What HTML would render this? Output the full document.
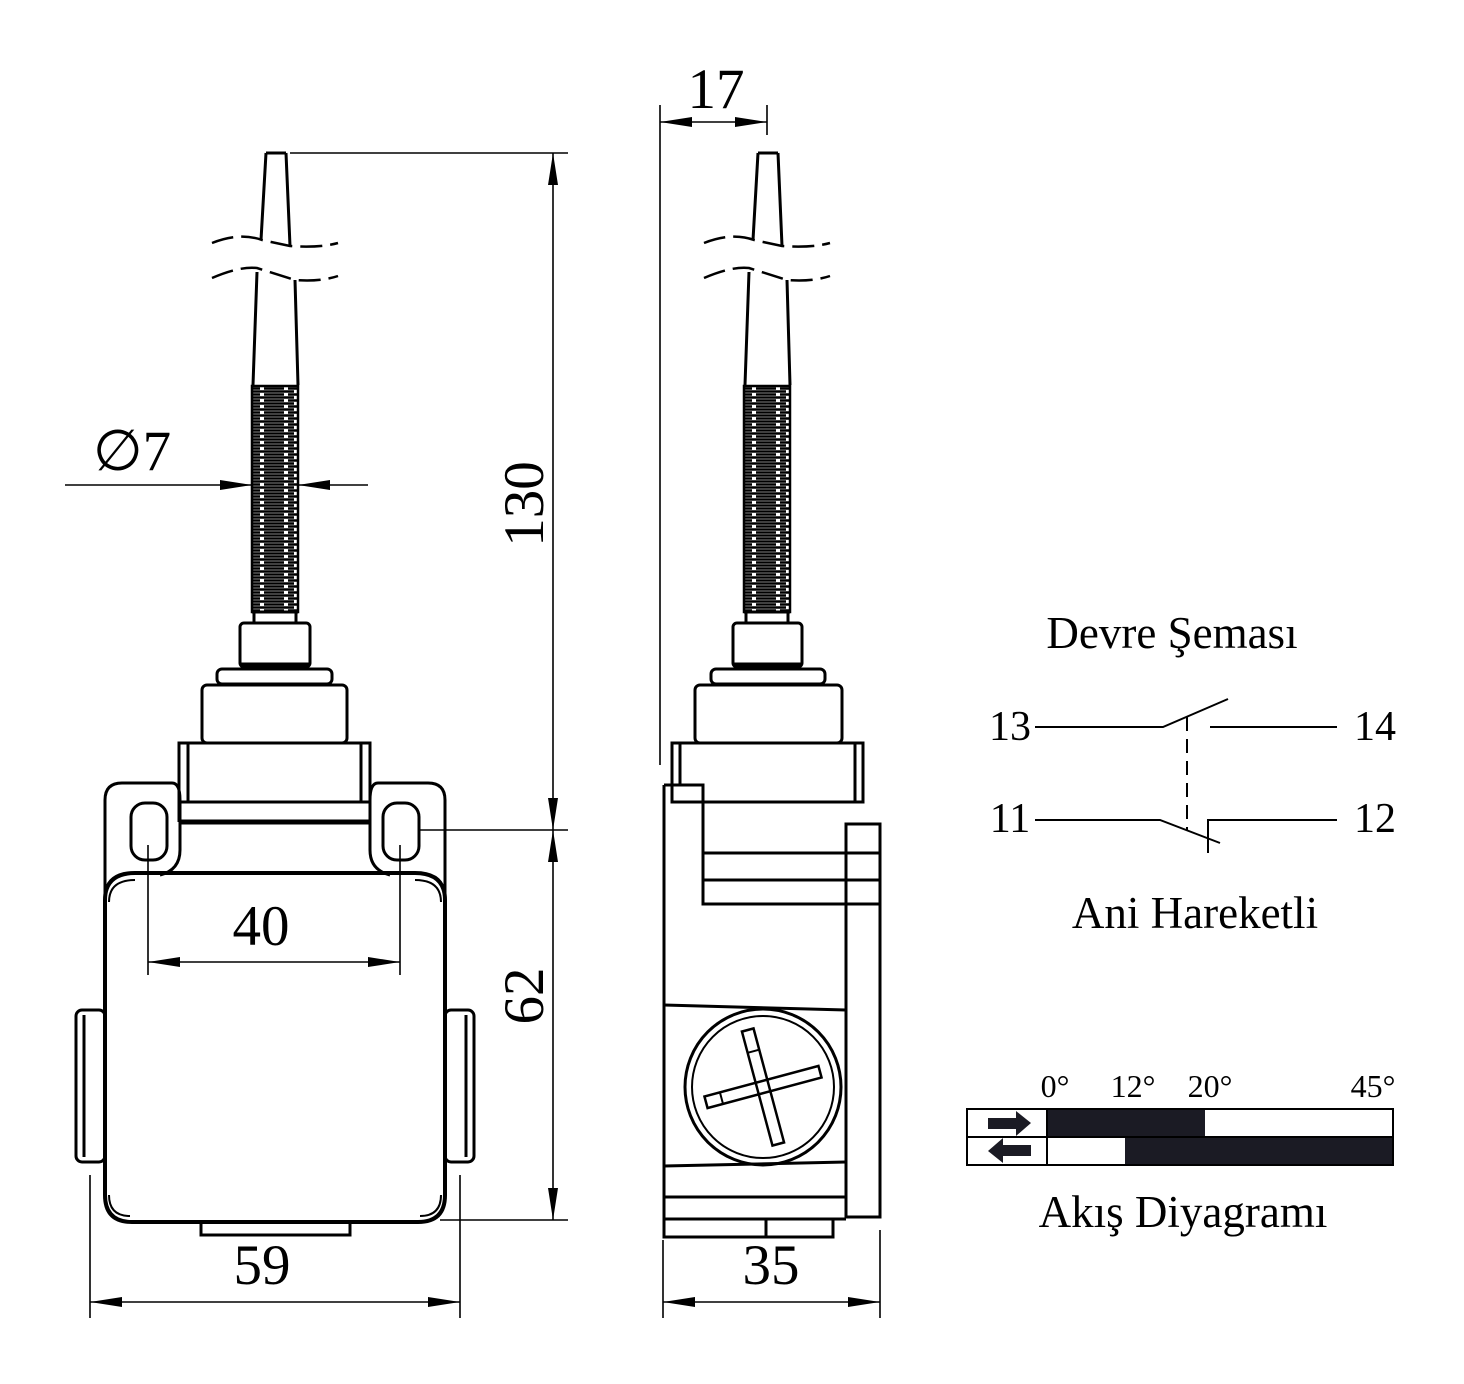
<!DOCTYPE html>
<html><head><meta charset="utf-8"><style>
html,body{margin:0;padding:0;background:#fff}
svg{display:block}
text{font-family:"Liberation Serif",serif;fill:#000}
</style></head><body>
<svg width="1464" height="1384" viewBox="0 0 1464 1384" xmlns="http://www.w3.org/2000/svg">
<defs>
<marker id="a" viewBox="0 0 32 10" refX="32" refY="5" markerWidth="32" markerHeight="10" markerUnits="userSpaceOnUse" orient="auto-start-reverse"><path d="M0,0 L32,5 L0,10 Z" fill="#000"/></marker>
<pattern id="spr" width="46" height="6" patternUnits="userSpaceOnUse">
<path d="M0,1.5 H18 M22,1.5 H46 M0,4.5 H8 M12,4.5 H30 M34,4.5 H46" stroke="#000" stroke-width="2.4"/>
</pattern>
</defs>
<g fill="none" stroke="#000" stroke-width="3">
<!-- ===== FRONT VIEW ===== -->
<g id="ant">
<path d="M266,153 H286 M266,153 L261,240 M286,153 L290,246"/>
<path d="M257,272 L253,385 M295,280 L298,385"/>
<path d="M212,243 Q240,232 262,240 L290,246 Q320,248 338,243" stroke-dasharray="22,8" stroke-width="2.5"/>
<path d="M212,278 Q240,266 257,268 L295,280 Q320,282 338,276" stroke-dasharray="22,8" stroke-width="2.5"/>
<rect x="252" y="386" width="46" height="226" fill="url(#spr)" stroke="#000" stroke-width="2.5"/>
<path d="M252,612 H298 M254,612 L254,623 M296,612 L296,623"/>
</g>
<g id="cap">
<rect x="240" y="623" width="70" height="44" rx="4"/>
<path d="M240,664 H310"/>
<rect x="217" y="669" width="115" height="15" rx="5"/>
<rect x="202" y="685" width="145" height="58" rx="5"/>
</g>
<rect x="179" y="743" width="191" height="59"/>
<path d="M188,743 V802 M361,743 V802"/>
<path d="M179,802 V822 M370,802 V822"/>
<path d="M179,822 H370" stroke-width="5"/>
<!-- lugs -->
<path d="M105,895 V800 Q105,783 122,783 H172 Q180,783 180,800 V850 Q180,870 160,875"/>
<path d="M445,895 V800 Q445,783 428,783 H378 Q370,783 370,800 V850 Q370,870 390,875"/>
<rect x="131" y="803" width="36" height="57" rx="14"/>
<rect x="383" y="803" width="36" height="57" rx="14"/>
<!-- body -->
<path d="M105,900 Q105,873 135,873 H415 Q445,873 445,900 V1195 Q445,1222 418,1222 H132 Q105,1222 105,1195 Z" stroke-width="4"/>
<path d="M109,902 Q109,880 135,880 M441,902 Q441,880 415,880 M109,1195 Q109,1216 130,1216 M441,1195 Q441,1216 420,1216" stroke-width="2"/>
<rect x="76" y="1010" width="29" height="152" rx="6"/>
<path d="M84,1015 V1157"/>
<rect x="445" y="1010" width="29" height="152" rx="6"/>
<path d="M466,1015 V1157"/>
<rect x="201" y="1222" width="149" height="13"/>
<!-- front dims -->
<g stroke-width="1.6">
<path d="M290,153 H568 M420,830 H568 M440,1220 H568"/>
<path d="M553,153 V830" marker-start="url(#a)" marker-end="url(#a)"/>
<path d="M553,830 V1220" marker-start="url(#a)" marker-end="url(#a)"/>
<path d="M148,845 V975 M400,845 V975"/>
<path d="M148,962 H400" marker-start="url(#a)" marker-end="url(#a)"/>
<path d="M90,1175 V1318 M460,1175 V1318"/>
<path d="M90,1302 H460" marker-start="url(#a)" marker-end="url(#a)"/>
<path d="M65,485 H252" marker-end="url(#a)"/>
<path d="M368,485 H298" marker-end="url(#a)"/>
<path d="M660,105 V765 M767,105 V135"/>
<path d="M660,122 H767" marker-start="url(#a)" marker-end="url(#a)"/>
<path d="M663,1240 V1318 M880,1230 V1318"/>
<path d="M663,1302 H880" marker-start="url(#a)" marker-end="url(#a)"/>
</g>
<!-- ===== SIDE VIEW ===== -->
<use href="#ant" transform="translate(492,0)"/>
<rect x="733" y="623" width="69" height="44" rx="4"/>
<path d="M733,664 H802"/>
<rect x="711" y="669" width="114" height="15" rx="5"/>
<rect x="695" y="685" width="147" height="58" rx="5"/>
<rect x="672" y="743" width="191" height="59"/>
<path d="M680,743 V785 M855,743 V802"/>
<path d="M664,785 H703 V904 H880 M703,802 H862 M703,853 H880 M703,880 H880"/>
<path d="M664,785 V1237 H833 V1219"/>
<path d="M846,824 H880 V1217 H846 Z"/>
<path d="M664,1005 L846,1010 M664,1166 L846,1162 M664,1197 H846 M664,1219 H846 M766,1219 V1237"/>
<circle cx="763" cy="1087" r="78"/>
<circle cx="763" cy="1087" r="71" stroke-width="2"/>
<g transform="rotate(-15 763 1087)">
<rect x="704" y="1081" width="118" height="12" stroke-width="2.5"/>
<rect x="757" y="1028" width="12" height="118" stroke-width="2.5"/>
<path d="M720,1081 V1093 M757,1050 H769" stroke-width="2"/>
</g>
<!-- ===== CIRCUIT ===== -->
<g stroke-width="2">
<path d="M1035,727 H1163 L1228,699 M1210,727 H1337"/>
<path d="M1187,717 V830" stroke-dasharray="14,8"/>
<path d="M1035,820 H1160 L1220,843 M1208,853 V820 H1337"/>
</g>
<!-- flow diagram -->
<rect x="1047" y="1109" width="158" height="28" fill="#1b1b24" stroke="none"/>
<rect x="1125" y="1137" width="268" height="28" fill="#1b1b24" stroke="none"/>
<rect x="967" y="1109" width="426" height="56" stroke-width="2"/>
<path d="M967,1137 H1393 M1047,1109 V1165" stroke-width="2"/>
<path d="M988,1118 H1016 V1111 L1031,1123 L1016,1136 V1129 H988 Z" fill="#1b1b24" stroke="none"/>
<path d="M1031,1145 H1003 V1138 L988,1151 L1003,1163 V1156 H1031 Z" fill="#1b1b24" stroke="none"/>
</g>
<g font-size="57">
<text x="261" y="945" text-anchor="middle">40</text>
<text x="262" y="1284" text-anchor="middle">59</text>
<text x="771" y="1284" text-anchor="middle">35</text>
<text x="716" y="108" text-anchor="middle">17</text>
<text x="93" y="470">∅7</text>
<text transform="translate(543,504) rotate(-90)" text-anchor="middle">130</text>
<text transform="translate(543,996) rotate(-90)" text-anchor="middle">62</text>
</g>
<g font-size="45">
<text x="1172" y="648" text-anchor="middle">Devre Şeması</text>
<text x="1195" y="928" text-anchor="middle">Ani Hareketli</text>
<text x="1183" y="1227" text-anchor="middle">Akış Diyagramı</text>
</g>
<g font-size="42">
<text x="1010" y="740" text-anchor="middle">13</text>
<text x="1375" y="740" text-anchor="middle">14</text>
<text x="1010" y="832" text-anchor="middle">11</text>
<text x="1375" y="832" text-anchor="middle">12</text>
</g>
<g font-size="32">
<text x="1055" y="1097" text-anchor="middle">0°</text>
<text x="1133" y="1097" text-anchor="middle">12°</text>
<text x="1210" y="1097" text-anchor="middle">20°</text>
<text x="1373" y="1097" text-anchor="middle">45°</text>
</g>
</svg>
</body></html>
